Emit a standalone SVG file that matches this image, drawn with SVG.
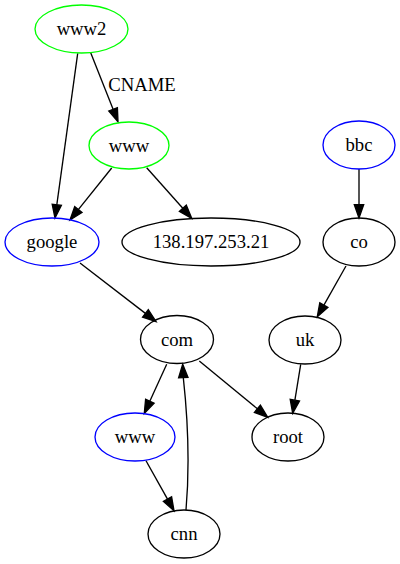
<svg xmlns="http://www.w3.org/2000/svg" width="400" height="564" viewBox="0 0 400 564">
<style>
.n ellipse{fill:none;stroke:#000;stroke-width:1.33}
.g ellipse{stroke:#00ff00}
.b ellipse{stroke:#0000ff}
text{font-family:"Times New Roman",Times,"Liberation Serif","Noto Serif","DejaVu Serif",serif;font-size:18.67px;fill:#000;text-anchor:middle}
.e path{fill:none;stroke:#000;stroke-width:1.33}
.e polygon{fill:#000;stroke:#000;stroke-width:1.33}
</style>
<rect width="400" height="564" fill="#fff"/>
<g id="edges" class="e">
<path d="M77.7,53.3 L56.8,204.8"/><polygon points="55,218 52.2,204.2 61.4,205.4"/>
<path d="M90.7,52.7 L113.1,109.3"/><polygon points="118,121.7 108.8,111 117.4,107.6"/>
<text x="142" y="91">CNAME</text>
<path d="M111.7,168 L78.3,209.6"/><polygon points="70,220 74.7,206.7 82,212.5"/>
<path d="M146.7,167.7 L182.8,208.3"/><polygon points="191.7,218.3 179.4,211.4 186.3,205.2"/>
<path d="M80,263 L145.4,313.4"/><polygon points="156,321.5 142.6,317.1 148.3,309.7"/>
<path d="M166.7,364.3 L149.8,401.2"/><polygon points="144.3,413.3 145.6,399.2 154.1,403.1"/>
<path d="M199.3,361 L257.4,408.8"/><polygon points="267.7,417.3 254.4,412.4 260.4,405.2"/>
<path d="M146,460.7 L167.5,499.1"/><polygon points="174,510.7 163.4,501.4 171.6,496.8"/>
<path d="M186,510 C189,475 188.5,425 183.3,377.6"/><polygon points="182.7,364.3 188,377.4 178.6,377.8"/>
<path d="M300.7,364.3 L294.9,400.1"/><polygon points="292.7,413.3 290.2,399.4 299.5,400.9"/>
<path d="M346,266 L323.9,305.1"/><polygon points="317.3,316.7 319.8,302.8 327.9,307.4"/>
<path d="M359,169 L359,204.7"/><polygon points="359,218 354.3,204.7 363.7,204.7"/>
</g>
<g id="www2" class="n g"><ellipse cx="81.5" cy="29" rx="46.5" ry="24"/><text x="81.5" y="35">www2</text></g>
<g id="www" class="n g"><ellipse cx="129" cy="145.5" rx="40" ry="23.5"/><text x="129" y="151.5">www</text></g>
<g id="google" class="n b"><ellipse cx="52" cy="242" rx="47" ry="24"/><text x="52" y="248">google</text></g>
<g id="ip" class="n"><ellipse cx="211" cy="242" rx="89" ry="24"/><text x="211" y="248">138.197.253.21</text></g>
<g id="bbc" class="n b"><ellipse cx="359" cy="145" rx="36" ry="24"/><text x="359" y="151">bbc</text></g>
<g id="co" class="n"><ellipse cx="359" cy="242" rx="36" ry="24"/><text x="359" y="248">co</text></g>
<g id="uk" class="n"><ellipse cx="305" cy="340" rx="36" ry="24"/><text x="305" y="346">uk</text></g>
<g id="com" class="n"><ellipse cx="177" cy="339.5" rx="36.5" ry="24"/><text x="177" y="345.5">com</text></g>
<g id="root" class="n"><ellipse cx="288" cy="437" rx="36" ry="24"/><text x="288" y="443">root</text></g>
<g id="cnn_www" class="n b"><ellipse cx="135" cy="437" rx="40" ry="24"/><text x="135" y="443">www</text></g>
<g id="cnn" class="n"><ellipse cx="184" cy="534" rx="36" ry="24"/><text x="184" y="540">cnn</text></g>
</svg>
